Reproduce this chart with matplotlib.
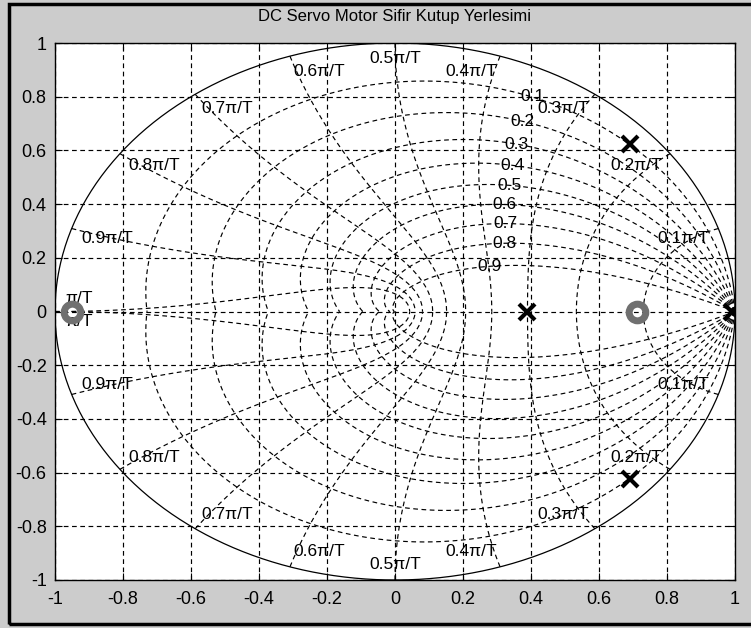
import numpy as np
import matplotlib

matplotlib.use("Agg")

import matplotlib.pyplot as plt
from matplotlib.patches import Rectangle

plt.rcParams["font.family"] = ["Liberation Sans", "DejaVu Sans"]

title = "DC Servo Motor Sifir Kutup Yerlesimi"

# pole / zero locations
pole_re = [0.389, 0.69, 0.69, 0.99]
pole_im = [0.0, 0.625, -0.625, 0.0]
zero_re = [-0.95, 0.712]
zero_im = [0.0, 0.0]

# zgrid: damping ratios and natural frequencies (in units of pi/T)
zeta_vals = [0.1, 0.2, 0.3, 0.4, 0.5, 0.6, 0.7, 0.8, 0.9]
wn_vals = [0.1, 0.2, 0.3, 0.4, 0.5, 0.6, 0.7, 0.8, 0.9, 1.0]
wn_labels = ["0.1\u03c0/T", "0.2\u03c0/T", "0.3\u03c0/T", "0.4\u03c0/T", "0.5\u03c0/T",
             "0.6\u03c0/T", "0.7\u03c0/T", "0.8\u03c0/T", "0.9\u03c0/T", "\u03c0/T"]
# angle along each damping curve where its label sits
zeta_label_ang = [1.103, 1.083, 1.050, 1.007, 0.948, 0.890, 0.791, 0.670, 0.544]

ticks = [-1, -0.8, -0.6, -0.4, -0.2, 0, 0.2, 0.4, 0.6, 0.8, 1]

W, H = 751, 628
fig = plt.figure(figsize=(W / 100, H / 100), dpi=100, facecolor="#cccccc")
ax = fig.add_axes([55 / W, (H - 580) / H, 680 / W, 537 / H])

dash = dict(color="k", lw=0.85, ls=(0, (4, 3)))
lab_fs = 12.5

# damping lines
th = np.linspace(0, np.pi, 400)
for z in zeta_vals:
    r = np.exp(-z / np.sqrt(1 - z ** 2) * th)
    ax.plot(r * np.cos(th), r * np.sin(th), **dash)
    ax.plot(r * np.cos(th), -r * np.sin(th), **dash)

# natural frequency lines
zz = np.linspace(0, 1, 300)
for w in wn_vals:
    wn = w * np.pi
    r = np.exp(-zz * wn)
    a = wn * np.sqrt(1 - zz ** 2)
    ax.plot(r * np.cos(a), r * np.sin(a), **dash)
    ax.plot(r * np.cos(a), -r * np.sin(a), **dash)

# unit circle
tc = np.linspace(0, 2 * np.pi, 600)
ax.plot(np.cos(tc), np.sin(tc), color="k", lw=0.9)

# damping labels
for z, ang in zip(zeta_vals, zeta_label_ang):
    r = np.exp(-z / np.sqrt(1 - z ** 2) * ang)
    ax.text(r * np.cos(ang), r * np.sin(ang), f"{z:g}", ha="center", va="center",
            fontsize=lab_fs)

# frequency labels
for w, lab in zip(wn_vals, wn_labels):
    a = w * np.pi
    x, y = 0.97 * np.cos(a), 0.97 * np.sin(a)
    ha = "right" if w < 0.5 else ("center" if w == 0.5 else "left")
    if w == 1.0:
        ax.text(x, 0.02, lab, ha=ha, va="bottom", fontsize=lab_fs)
        ax.text(x, -0.01, lab, ha=ha, va="top", fontsize=lab_fs)
    else:
        ax.text(x, y, lab, ha=ha, va="top", fontsize=lab_fs)
        ax.text(x, -y, lab, ha=ha, va="bottom", fontsize=lab_fs)

ax.plot(pole_re, pole_im, ls="none", marker="x", ms=11, mew=3, color="k", zorder=5)
ax.plot(zero_re, zero_im, ls="none", marker="o", ms=12, mew=5, mfc="none",
        mec="#707070", zorder=5)

ax.set_xlim(-1, 1)
ax.set_ylim(-1, 1)
ax.set_xticks(ticks)
ax.set_yticks(ticks)
ax.set_xticklabels([f"{t:g}" for t in ticks])
ax.set_yticklabels([f"{t:g}" for t in ticks])
ax.tick_params(direction="in", top=True, right=True, length=5, labelsize=13)
ax.tick_params(axis="x", pad=8)
ax.tick_params(axis="y", pad=6)
ax.grid(True, **dash)
for s in ax.spines.values():
    s.set_linewidth(1.0)
ax.set_title(title, fontsize=12, pad=16)

fig.patches.append(Rectangle((9 / W, 4 / H), 1.0, (622 - 2) / H, transform=fig.transFigure,
                             fill=False, ec="k", lw=2.5))

fig.savefig("out.png", dpi=100, facecolor=fig.get_facecolor())
